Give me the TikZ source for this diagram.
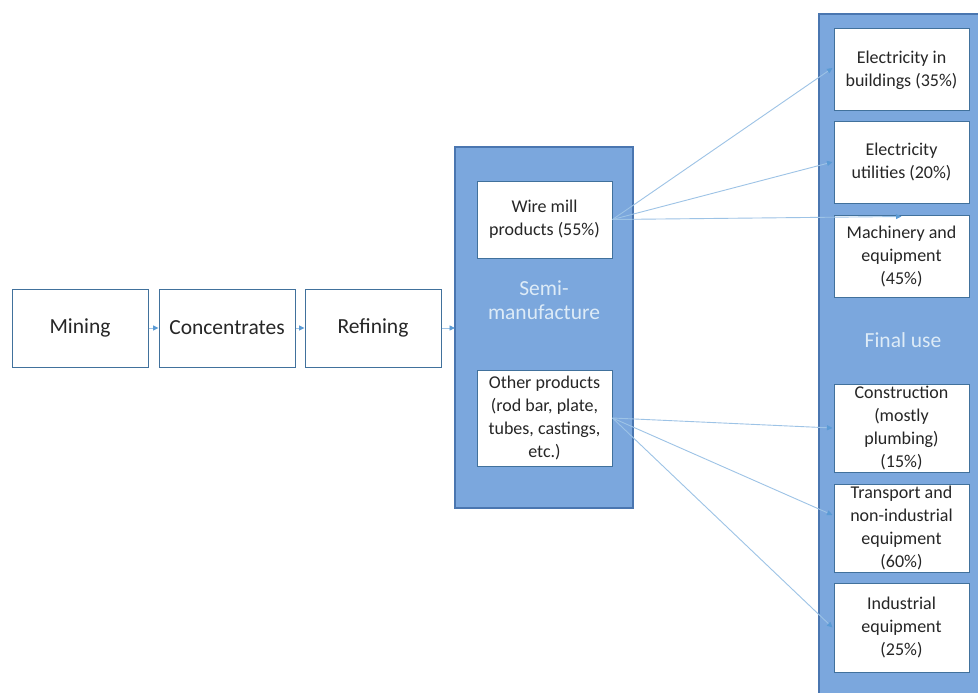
\documentclass[tikz,border=0pt]{standalone}
\usepackage{fontspec}
\setmainfont{Carlito}
\usetikzlibrary{arrows.meta}
\definecolor{panelfill}{HTML}{7BA7DD}
\definecolor{panelborder}{HTML}{4A76B0}
\definecolor{boxborder}{HTML}{41719C}
\definecolor{arrowc}{HTML}{9DC3E6}
\definecolor{tipc}{HTML}{5B9BD5}
\definecolor{txt}{HTML}{262626}
\definecolor{paneltxt}{HTML}{DDEBF7}
\begin{document}
\begin{tikzpicture}[x=1pt,y=-1pt,
  stepbox/.style={draw=boxborder, line width=1pt, fill=white, inner sep=0pt, text=txt,
    font=\fontsize{21.5}{25}\selectfont, align=center, minimum width=136pt, minimum height=78pt},
  smallbox/.style={draw=boxborder, line width=1pt, fill=white, inner sep=0pt, text=txt,
    font=\fontsize{18}{23}\selectfont, align=center, minimum width=135pt},
  panelbox/.style={draw=panelborder, fill=panelfill, line width=1.2pt},
  paneltext/.style={text=paneltxt, font=\fontsize{21.5}{24}\selectfont, align=center},
  flow/.style={draw=arrowc, line width=0.9pt, -{Triangle[length=5.5pt,width=5pt,color=tipc,fill=tipc]}}]
\useasboundingbox (0,0) rectangle (978,693);
\fill[white] (0,0) rectangle (978,693);
% panels
\draw[panelbox] (455,147) rectangle (633,508);
\draw[panelbox] (819,14) rectangle (982,697);
\node[paneltext] (semilabel) at (544,300) {Semi-\\manufacture};
\node[paneltext] (finallabel) at (903,340) {Final use};
% chain
\node[stepbox] (mining) at (80,328) {Mining};
\node[stepbox] (conc) at (227,328) {Concentrates};
\node[stepbox] (refin) at (373,328) {Refining};
\coordinate (semiwest) at (455,328);
% semi products
\node[smallbox, minimum height=77pt] (wire) at (544.5,219.5) {Wire mill\\products (55\%)};
\node[smallbox, minimum height=96pt] (other) at (544.5,418) {Other products\\(rod bar, plate,\\tubes, castings,\\etc.)};
% final use boxes
\node[smallbox, minimum height=82pt] (ebuild) at (901.5,70) {Electricity in\\buildings (35\%)};
\node[smallbox, minimum height=82pt] (eutil) at (901.5,162) {Electricity\\utilities (20\%)};
\node[smallbox, minimum height=82pt] (mach) at (901.5,256) {Machinery and\\equipment\\(45\%)};
\node[smallbox, minimum height=88pt] (constr) at (901.5,428) {Construction\\(mostly\\plumbing)\\(15\%)};
\node[smallbox, minimum height=88pt] (transp) at (901.5,528) {Transport and\\non-industrial\\equipment\\(60\%)};
\node[smallbox, minimum height=89pt] (indus) at (901.5,627.5) {Industrial\\equipment\\(25\%)};
% connectors
\draw[flow] (mining.east) -- (conc.west);
\draw[flow] (conc.east) -- (refin.west);
\draw[flow] (refin.east) -- (semiwest);
\draw[flow] (wire.east) -- ([xshift=-1pt,yshift=2pt]ebuild.west);
\draw[flow] (wire.east) -- ([xshift=-1pt]eutil.west);
\draw[flow] (wire.east) -- ([yshift=-2pt]mach.north);
\draw[flow] (other.east) -- ([xshift=-1pt]constr.west);
\draw[flow] (other.east) -- ([xshift=-1pt,yshift=13pt]transp.west);
\draw[flow] (other.east) -- ([xshift=-1pt]indus.west);
\end{tikzpicture}
\end{document}
